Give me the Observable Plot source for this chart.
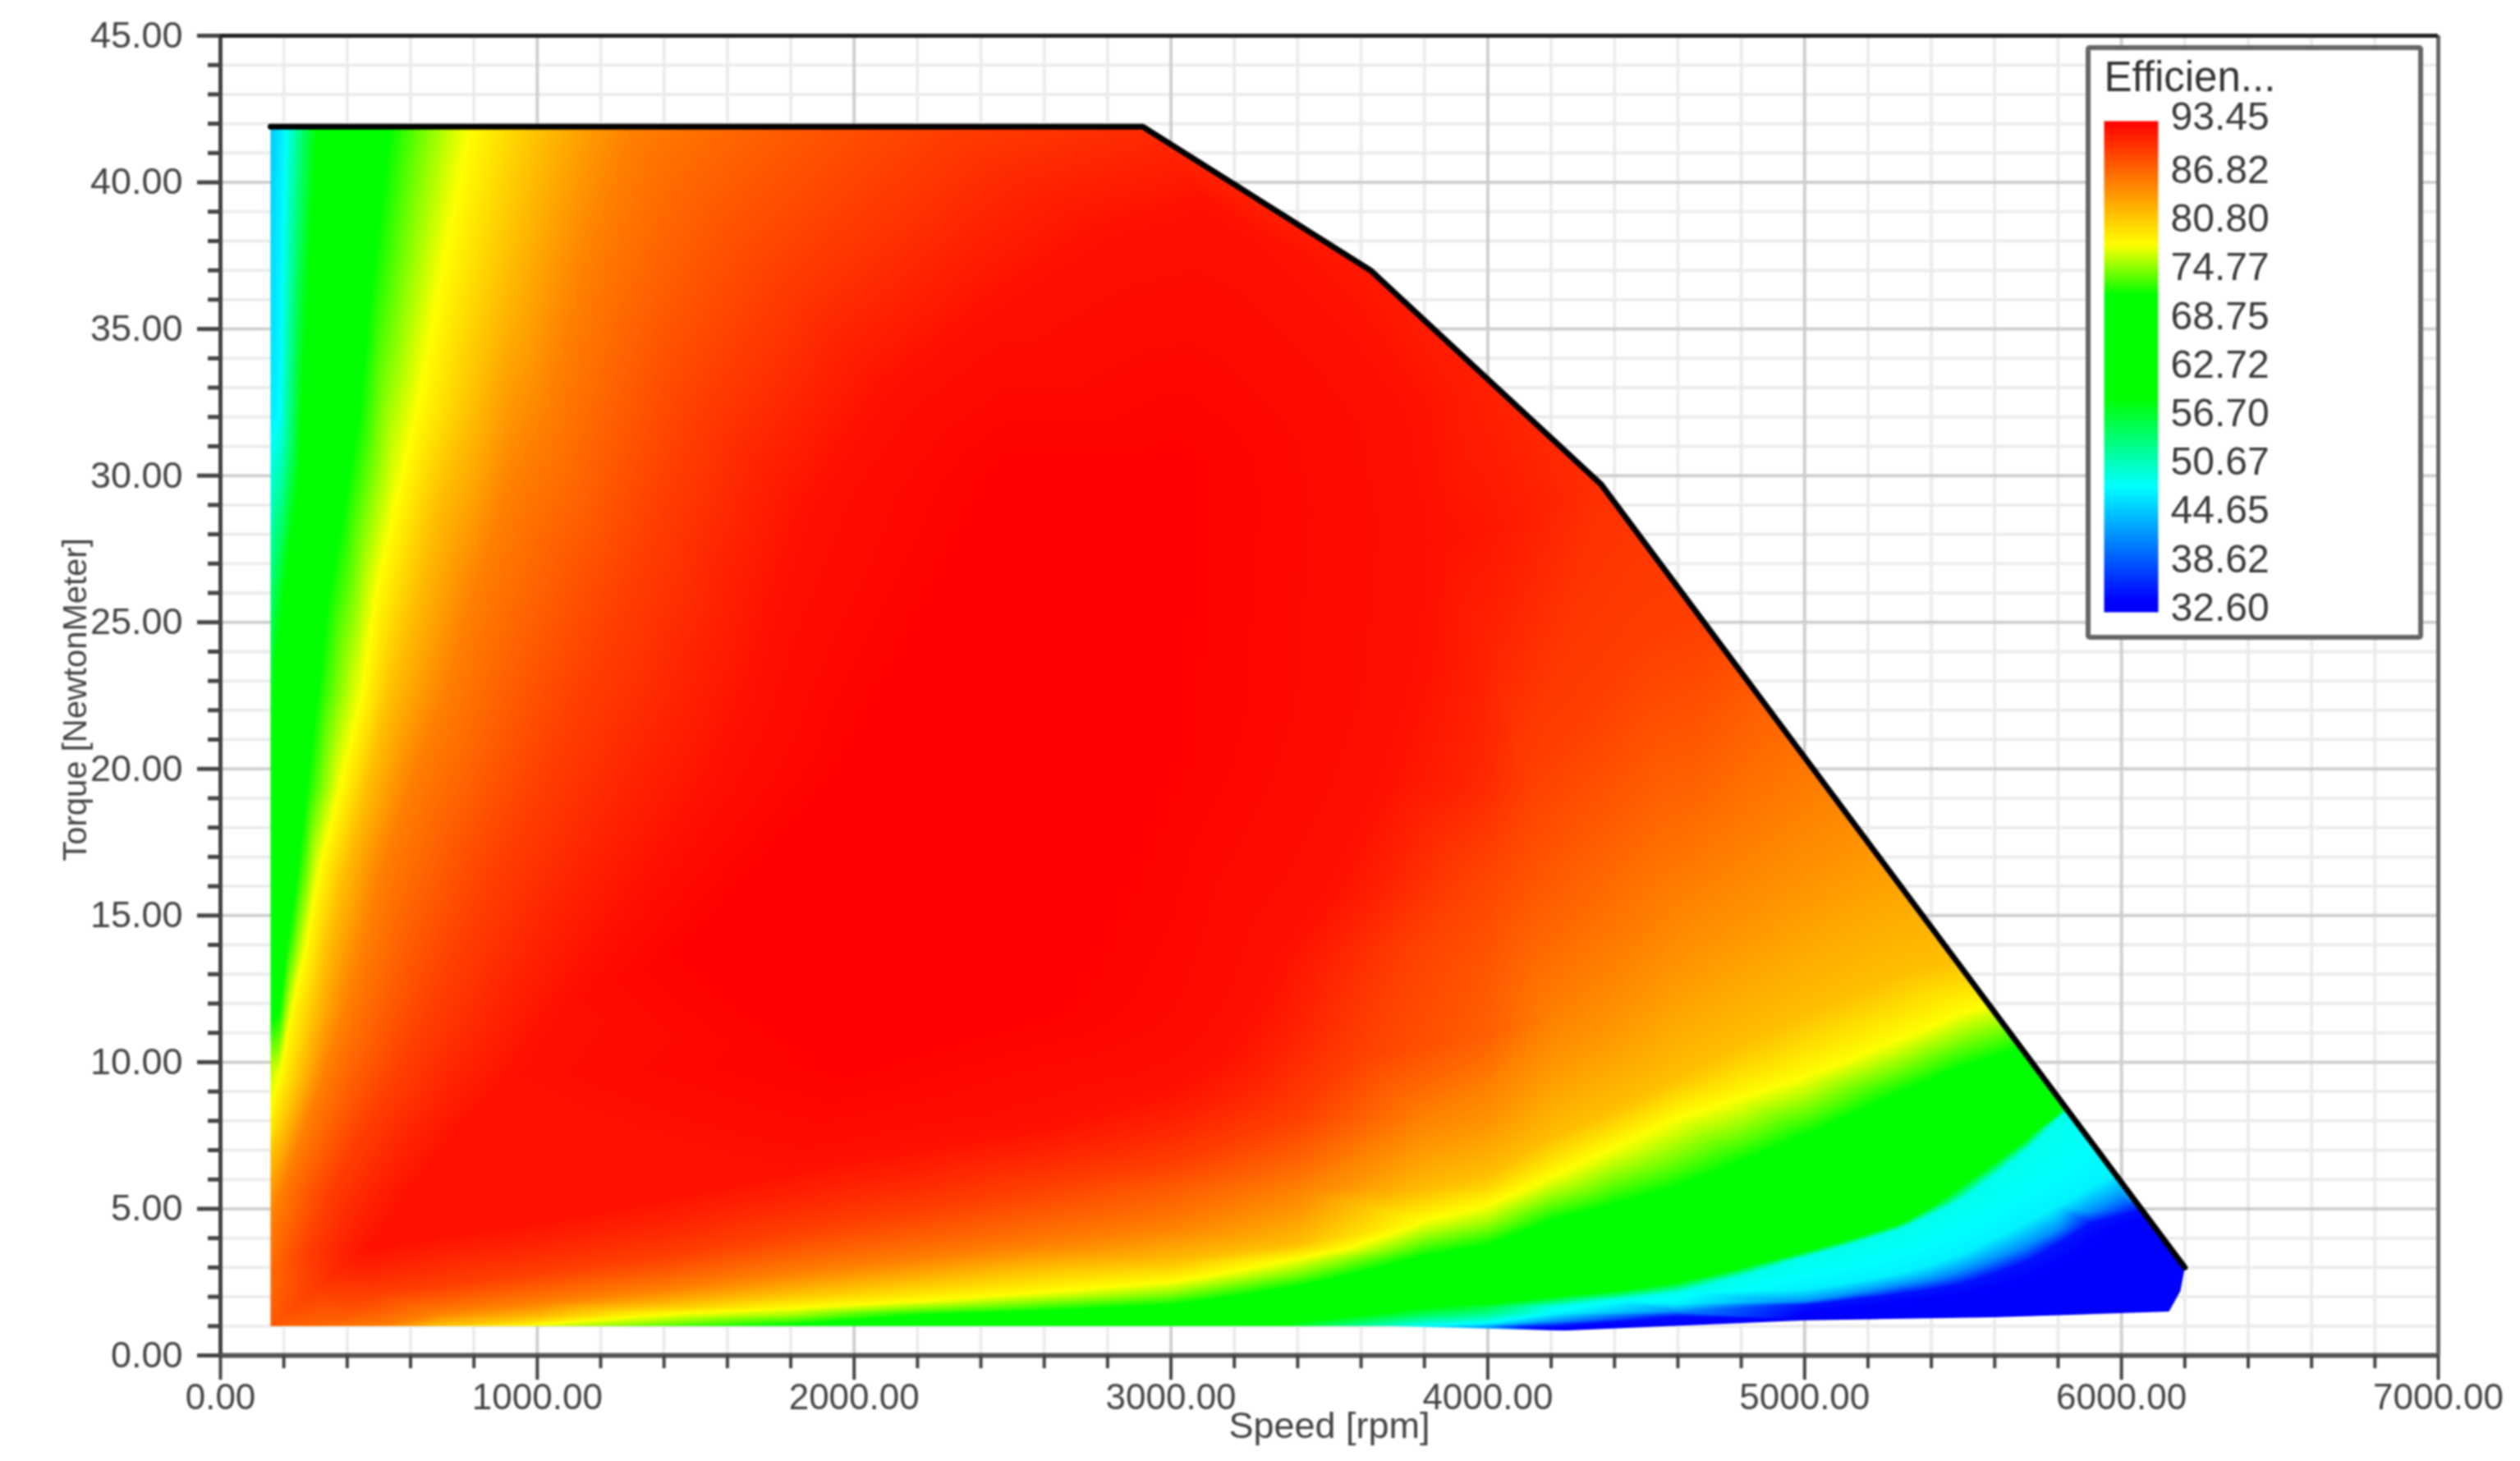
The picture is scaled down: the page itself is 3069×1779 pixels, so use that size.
<!DOCTYPE html>
<html>
<head>
<meta charset="utf-8">
<script src="https://cdn.jsdelivr.net/npm/d3@7"></script>
<script src="https://cdn.jsdelivr.net/npm/@observablehq/plot@0.6"></script>
<style>
html,body{margin:0;padding:0;background:#fff;}
#stage{position:relative;width:3069px;height:1779px;overflow:hidden;filter:blur(1.2px);}
#stage svg{display:block;max-width:none;}
#legend{position:absolute;left:2540px;top:55px;width:411px;height:724px;box-sizing:border-box;background:#fff;border:6px solid #666;border-radius:5px;}
#legend svg{position:absolute;left:-6px;top:-6px;}
</style>
</head>
<body>
<div id="stage"></div>
<script>
// Axis ticks
const speedMax = 7000;
const torqueMax = 45;
const speedMajor = [0, 1000, 2000, 3000, 4000, 5000, 6000, 7000];
const torqueMajor = [0, 5, 10, 15, 20, 25, 30, 35, 40, 45];
const speedMinor = d3.range(0, 7001, 200).filter(d => d % 1000 !== 0);
const torqueMinor = d3.range(0, 46).filter(d => d % 5 !== 0);

// Legend
const legendValues = [93.45, 86.82, 80.80, 74.77, 68.75, 62.72, 56.70, 50.67, 44.65, 38.62, 32.60];
const colorStops = [32.6, 34, 48.2, 59.1, 71.9, 78.1, 93.45];
const colorRange = ["#0000ff", "#0000ff", "#00ffff", "#00ff00", "#00ff00", "#ffff00", "#ff0000"];

// Operating envelope and outline of the map (speed, torque)
const envelope = [[158,41.9],[2911,41.9],[3630,37],[4358,29.7],[6200,3]];
const mapBottom = [[6186,2.2],[6150,1.5],[5600,1.3],[5000,1.2],[4240,0.85],[3700,1],[158,1]];

// Left and upper/right edge readings: [speed, torque, efficiency]
const leftEdge = [[158,41.85,45],[205,41.85,48],[158,37,46],[158,32,47],[185,32.2,48],[158,25,55],[158,15,63],[158,13,66],[158,10,76],[158,7.7,79.5],[158,5.6,84],[158,2.8,87],[158,1,88],[350,1,87]];
const outerEdge = [[2911,41.85,90.8],[3270,39.45,91.4],[3630,37,92],[4000,33.3,91.5],[4358,29.7,90.6],[4520,27.2,90],[4880,22,87.5],[5250,16.7,84]];

// Curves of equal efficiency: [speed, torque]
const iso935 = [[1500,14],[2000,10],[2600,12],[2000,20],[2900,20],[2500,30],[3000,30]];
const iso925 = [[480,3.7],[600,5.6],[760,7.7],[915,9.5],[1045,11.7],[1190,14],[1360,16.5],[1538,19.4],[1670,22.6],[1758,26],[1852,29],[2100,33],[2450,36],[2800,38.4],[3100,39.4],[3312,38],[3584,35],[3766,32.3],[3839,27.8],[3803,24],[3675,19.4],[3494,15.6],[3350,13.5],[3298,12.1],[3182,10.25],[3000,9],[2600,7.8],[2200,7.1],[1800,6.3],[1400,5.4],[1000,4.6]];
const iso896 = [[270,3.5],[290,2.2],[480,2.1],[340,5.6],[446,7.7],[552,9.5],[655,11.7],[750,14],[855,16.5],[992,19.4],[1124,22.6],[1265,26],[1372,29],[1480,32.2],[1750,37],[2250,41.85],[4680,24.9],[4494,24],[4130,19.4],[3948,16.5],[3766,14],[3678,12.1],[3595,10.25],[3400,8.1],[3000,6.5],[2600,5.75],[2200,4.9],[1800,4.2],[1400,3.35],[1000,2.8],[678,2.33]];
const iso8575 = [[158,4.5],[190,5.6],[264,7.7],[325,9.5],[392,11.7],[450,14],[505,16.5],[595,19.4],[711,22.6],[800,26],[893,29],[1030,32.2],[1150,37],[1300,41.85],[5064,19.4],[5000,18.8],[4600,15.6],[4200,11.6],[3800,8.2],[3400,5.7],[3000,4.4],[2600,3.8],[2200,3.3],[1800,2.8],[1400,2.25],[1000,1.8],[700,1.45],[519,1]];
const iso819 = [[158,6.8],[198,7.7],[252,9.5],[297,11.7],[337,14],[390,16.5],[463,19.4],[537,22.6],[616,26],[683,29],[790,32.2],[900,37],[1011,41.85],[5476,13.45],[5300,13],[5000,11.66],[4800,10.6],[4600,9.5],[4400,8.4],[4200,7.4],[3800,5.6],[3400,3.8],[3000,3.2],[2600,2.95],[2200,2.5],[1800,2.1],[1400,1.7],[1000,1.3],[678,1]];
const iso781 = [[158,8.5],[185,9.5],[223,11.7],[270,14],[310,16.5],[378,19.4],[446,22.6],[492,26],[552,29],[620,32.2],[700,37],[787,41.85],[5580,11.95],[5500,11.7],[5300,10.8],[5000,9.5],[4800,8.8],[4600,8.1],[4400,7.1],[4200,6.1],[3800,4.6],[3400,3.3],[3000,2.5],[2600,2.15],[2200,1.85],[1800,1.6],[1400,1.4],[1000,1.05],[975,1]];
const iso719 = [[158,11.4],[185,11.7],[210,14],[243,16.5],[273,19.4],[306,22.6],[341,26],[390,29],[438,32.2],[480,37],[535,41.85],[5679,10.5],[5636,10.28],[5500,9.85],[5300,8.95],[5000,7.5],[4800,6.6],[4600,5.75],[4400,5.15],[4200,4.6],[3800,3.4],[3400,2.35],[3000,1.72],[2600,1.52],[2200,1.37],[1800,1.05],[1700,1]];
const iso591 = [[158,20.5],[173,23.4],[198,25.8],[248,30],[257,32.2],[280,37],[303,41.85],[5815,8.55],[5800,8.25],[5700,7.4],[5600,6.6],[5500,5.85],[5400,5.1],[5300,4.5],[5150,4],[5000,3.55],[4800,3],[4600,2.5],[4400,2.2],[4200,2],[3800,1.65],[3400,1.15],[3331,1]];
const iso490 = [[5830,8.34],[5800,8.07],[5700,7],[5600,6.15],[5500,5.35],[5400,4.8],[5300,4.3],[5150,3.8],[5000,3.35],[4800,2.7],[4600,2.15],[4400,1.9],[4200,1.65],[3800,1.05],[3750,1]];
const iso475 = [[5979,6.19],[5900,5.7],[5800,5.1],[5700,4.55],[5600,4],[5500,3.5],[5400,3.1],[5300,2.8],[5150,2.5],[5000,2.25],[4600,1.75],[4200,1.4],[3950,1.05]];
const iso420 = [[6040,5.31],[6000,5.4],[5900,4.9],[5800,4.3],[5700,3.75],[5600,3.3],[5500,2.9],[5400,2.6],[5300,2.4],[5150,2.1],[5000,1.85],[4600,1.5],[4200,1.15],[4008,0.98]];
const iso350 = [[6060,5.02],[6050,4.95],[5900,4.5],[5800,3.8],[5700,3.2],[5600,2.8],[5500,2.45],[5400,2.25],[5300,2.1],[5150,1.9],[5000,1.72],[4600,1.35],[4200,1],[4091,0.95]];
const iso330 = [[4240,0.85],[5000,1.2],[5600,1.3],[6150,1.5],[6186,2.2],[6200,3],[6130,4],[5900,3.1],[6050,4.3],[5700,2.2],[5500,1.8],[6000,2.5]];

const isoLevels = [[93.45,iso935],[92.5,iso925],[89.6,iso896],[85.75,iso8575],[81.9,iso819],[78.1,iso781],[71.9,iso719],[59.1,iso591],[49,iso490],[47.5,iso475],[42,iso420],[35,iso350],[33,iso330]];
const samples = [
  ...isoLevels.flatMap(([eff, pts]) => pts.map(([speed, torque]) => ({speed, torque, eff}))),
  ...leftEdge.concat(outerEdge).map(([speed, torque, eff]) => ({speed, torque, eff}))
];

// Raster interpolator: barycentric blending of the readings on a Delaunay mesh built in
// warped speed / torque, where the narrow low-speed and low-torque bands open up.
function warpedBarycentric(index, width, height, X, Y, V) {
  const base = Math.log(3100);
  const warpS = s => s <= 3000 ? Math.log(s + 100) : s <= 4000 ? base + (s - 3000) / 2000 : base + 0.5 + (s - 4000) / 1000;
  const warpT = t => Math.log(t + 0.5);
  const wu = Float64Array.from({length: width}, (_, u) => warpS((u + 0.5) / width * speedMax));
  const wv = Float64Array.from({length: height}, (_, v) => warpT((1 - (v + 0.5) / height) * torqueMax));
  const pts = Array.from(index, i => [warpS(X[i] / width * speedMax), warpT((1 - Y[i] / height) * torqueMax), V[i]]);
  const mesh = d3.Delaunay.from(pts);
  const W = new Float64Array(width * height).fill(NaN);
  const tri = mesh.triangles;
  for (let t = 0; t < tri.length; t += 3) {
    const [ax, ay, av] = pts[tri[t]], [bx, by, bv] = pts[tri[t + 1]], [cx, cy, cv] = pts[tri[t + 2]];
    const d = (by - cy) * (ax - cx) + (cx - bx) * (ay - cy);
    if (!d) continue;
    const u0 = Math.max(0, d3.bisectLeft(wu, Math.min(ax, bx, cx)) - 1);
    const u1 = Math.min(width - 1, d3.bisectRight(wu, Math.max(ax, bx, cx)) + 1);
    const v0 = Math.max(0, Math.floor((1 - (Math.exp(Math.max(ay, by, cy)) - 0.5) / torqueMax) * height) - 1);
    const v1 = Math.min(height - 1, Math.ceil((1 - (Math.exp(Math.min(ay, by, cy)) - 0.5) / torqueMax) * height) + 1);
    for (let v = v0; v <= v1; ++v) {
      const py = wv[v];
      for (let u = u0; u <= u1; ++u) {
        const px = wu[u];
        const l1 = ((by - cy) * (px - cx) + (cx - bx) * (py - cy)) / d;
        const l2 = ((cy - ay) * (px - cx) + (ax - cx) * (py - cy)) / d;
        const l3 = 1 - l1 - l2;
        if (l1 >= -1e-9 && l2 >= -1e-9 && l3 >= -1e-9) W[v * width + u] = l1 * av + l2 * bv + l3 * cv;
      }
    }
  }
  // Slivers between the straight outline and the mesh hull take the nearest reading.
  let hint = 0;
  for (let v = 0; v < height; ++v) {
    for (let u = 0; u < width; ++u) {
      const k = v * width + u;
      if (Number.isNaN(W[k])) {
        hint = mesh.find(wu[u], wv[v], hint);
        W[k] = pts[hint][2];
      }
    }
  }
  return W;
}

const inkColor = "#444";
const colorScale = {type: "linear", domain: colorStops, range: colorRange};
const fmt = d => d.toFixed(2);

const plot = Plot.plot({
  width: 3069, height: 1779,
  marginLeft: 268, marginRight: 100, marginTop: 43, marginBottom: 129,
  style: {fontFamily: "'Liberation Sans', Arial, sans-serif", background: "#fff", color: inkColor},
  x: {domain: [0, speedMax]},
  y: {domain: [0, torqueMax]},
  color: colorScale,
  marks: [
    Plot.ruleX(speedMinor, {stroke: "#ececec", strokeWidth: 4}),
    Plot.ruleY(torqueMinor, {stroke: "#ececec", strokeWidth: 4}),
    Plot.ruleX(speedMajor, {stroke: "#cfcfcf", strokeWidth: 4}),
    Plot.ruleY(torqueMajor, {stroke: "#cfcfcf", strokeWidth: 4}),
    Plot.raster(samples, {x: "speed", y: "torque", fill: "eff", interpolate: warpedBarycentric}),
    Plot.ruleX([0], {stroke: "#444", strokeWidth: 5}),
    Plot.ruleX([speedMax], {stroke: "#666", strokeWidth: 5}),
    Plot.ruleY([torqueMax], {stroke: "#222", strokeWidth: 5}),
    Plot.ruleY([0], {stroke: "#555", strokeWidth: 6}),
    Plot.axisX(speedMinor, {tickSize: 16, strokeWidth: 4, tickFormat: () => "", label: null}),
    Plot.axisX(speedMajor, {tickSize: 30, strokeWidth: 4, tickPadding: 4, tickFormat: fmt, fontSize: 44, label: null, stroke: inkColor, fill: inkColor}),
    Plot.axisY(torqueMinor, {tickSize: 15, strokeWidth: 5, tickFormat: () => "", label: null}),
    Plot.axisY(torqueMajor, {tickSize: 28, strokeWidth: 5, tickPadding: 18, tickFormat: fmt, fontSize: 45, label: null, stroke: inkColor, fill: inkColor}),
    Plot.text(["Speed [rpm]"], {frameAnchor: "bottom", dy: 100, fontSize: 45, fill: inkColor}),
    Plot.text(["Torque [NewtonMeter]"], {frameAnchor: "left", textAnchor: "middle", rotate: -90, dx: -176, dy: 5, fontSize: 40, fill: inkColor}),
    Plot.line(envelope, {x: d => d[0], y: d => d[1], stroke: "#000", strokeWidth: 7, strokeLinejoin: "round"})
  ]
});

// Keep the interpolated map inside its measured outline, through the plot's own scales.
const sx = plot.scale("x"), sy = plot.scale("y");
const outline = envelope.concat(mapBottom).map(([s, t]) => [sx.apply(s), sy.apply(t)]);
const clip = document.createElementNS("http://www.w3.org/2000/svg", "clipPath");
clip.setAttribute("id", "map-outline");
const clipShape = document.createElementNS("http://www.w3.org/2000/svg", "path");
clipShape.setAttribute("d", "M" + outline.map(p => p.join(",")).join("L") + "Z");
clip.appendChild(clipShape);
plot.appendChild(clip);
plot.querySelector("image").parentNode.setAttribute("clip-path", "url(#map-outline)");

const legendPlot = Plot.plot({
  width: 411, height: 724,
  margin: 0,
  style: {fontFamily: "'Liberation Sans', Arial, sans-serif", background: "transparent", color: "#333"},
  x: {domain: [0, 1], range: [22, 88], axis: null},
  y: {domain: [32.6, 93.45], range: [690, 92], axis: null},
  color: colorScale,
  marks: [
    Plot.raster({fill: (x, y) => y, x1: 0, x2: 1, y1: 32.6, y2: 93.45, width: 2, height: 598}),
    Plot.text(legendValues, {x: () => 1, y: d => d, text: fmt, textAnchor: "start", dx: 15, dy: -5, fontSize: 48, fill: "#3a3a3a"}),
    Plot.text(["Efficien..."], {frameAnchor: "top-left", dx: 22, dy: 19, textAnchor: "start", fontSize: 51, fill: "#333"})
  ]
});

const stage = document.getElementById("stage");
stage.appendChild(plot);
const legend = document.createElement("div");
legend.id = "legend";
legend.appendChild(legendPlot);
stage.appendChild(legend);
</script>
</body>
</html>
